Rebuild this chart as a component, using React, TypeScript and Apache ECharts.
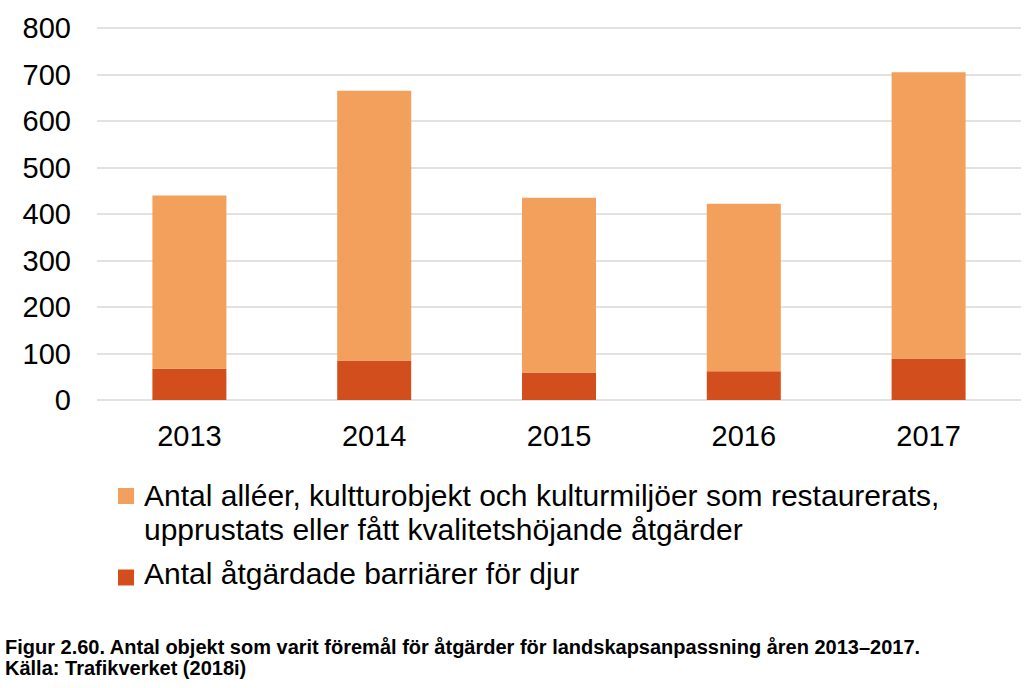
import React, { useEffect, useRef } from "react";
import * as echarts from "echarts";

const categories = ["2013", "2014", "2015", "2016", "2017"];
const barrierValues = [67, 85, 59, 62, 89];
const cultureValues = [373, 580, 376, 360, 616];
const cultureName =
  "Antal alléer, kultturobjekt och kulturmiljöer som restaurerats,\nupprustats eller fått kvalitetshöjande åtgärder";
const barrierName = "Antal åtgärdade barriärer för djur";
const yTicks = { min: 0, max: 800, interval: 100 };
const caption =
  "Figur 2.60. Antal objekt som varit föremål för åtgärder för landskapsanpassning åren 2013–2017.\nKälla: Trafikverket (2018i)";

const FONT = "'Liberation Sans', Arial, Helvetica, sans-serif";

export default function App() {
  const ref = useRef<HTMLDivElement>(null);
  useEffect(() => {
    if (!ref.current) return;
    const chart = echarts.init(ref.current, undefined, { renderer: "svg" });
    chart.setOption({
      animation: false,
      backgroundColor: "#ffffff",
      title: {
        text: caption,
        left: 5,
        top: 637,
        padding: 0,
        textStyle: {
          fontFamily: FONT,
          fontWeight: "bold",
          fontSize: 20,
          lineHeight: 20.5,
          color: "#000000",
        },
      },
      legend: {
        orient: "vertical",
        left: 118,
        top: 478,
        padding: 0,
        itemGap: -7,
        itemWidth: 21,
        itemHeight: 68,
        selectedMode: false,
        textStyle: {
          fontFamily: FONT,
          fontSize: 30,
          lineHeight: 34,
          color: "#000000",
        },
        data: [
          { name: cultureName, icon: "path://M0,10L16,10L16,26L0,26Z M21,0 M0,68" },
          { name: barrierName, icon: "path://M0,30.5L16,30.5L16,46.5L0,46.5Z M21,0 M0,68" },
        ],
      },
      grid: { left: 97, right: 3, top: 28, bottom: 288, containLabel: false },
      xAxis: {
        type: "category",
        data: categories,
        axisLine: { show: false },
        axisTick: { show: false },
        axisLabel: {
          fontFamily: FONT,
          fontSize: 29,
          color: "#000000",
          margin: 21,
        },
      },
      yAxis: {
        type: "value",
        min: yTicks.min,
        max: yTicks.max,
        interval: yTicks.interval,
        axisLine: { show: false },
        axisTick: { show: false },
        splitLine: { lineStyle: { color: "#d9d9d9", width: 1.5 } },
        axisLabel: {
          fontFamily: FONT,
          fontSize: 29,
          color: "#000000",
          margin: 26,
        },
      },
      series: [
        {
          name: barrierName,
          type: "bar",
          stack: "total",
          barWidth: 74,
          data: barrierValues,
          itemStyle: { color: "#D24E1D" },
        },
        {
          name: cultureName,
          type: "bar",
          stack: "total",
          barWidth: 74,
          data: cultureValues,
          itemStyle: { color: "#F2A05B" },
        },
      ],
    });
    return () => chart.dispose();
  }, []);
  return (
    <div
      ref={ref}
      style={{ position: "fixed", left: 0, top: 0, width: 1024, height: 688 }}
    />
  );
}
